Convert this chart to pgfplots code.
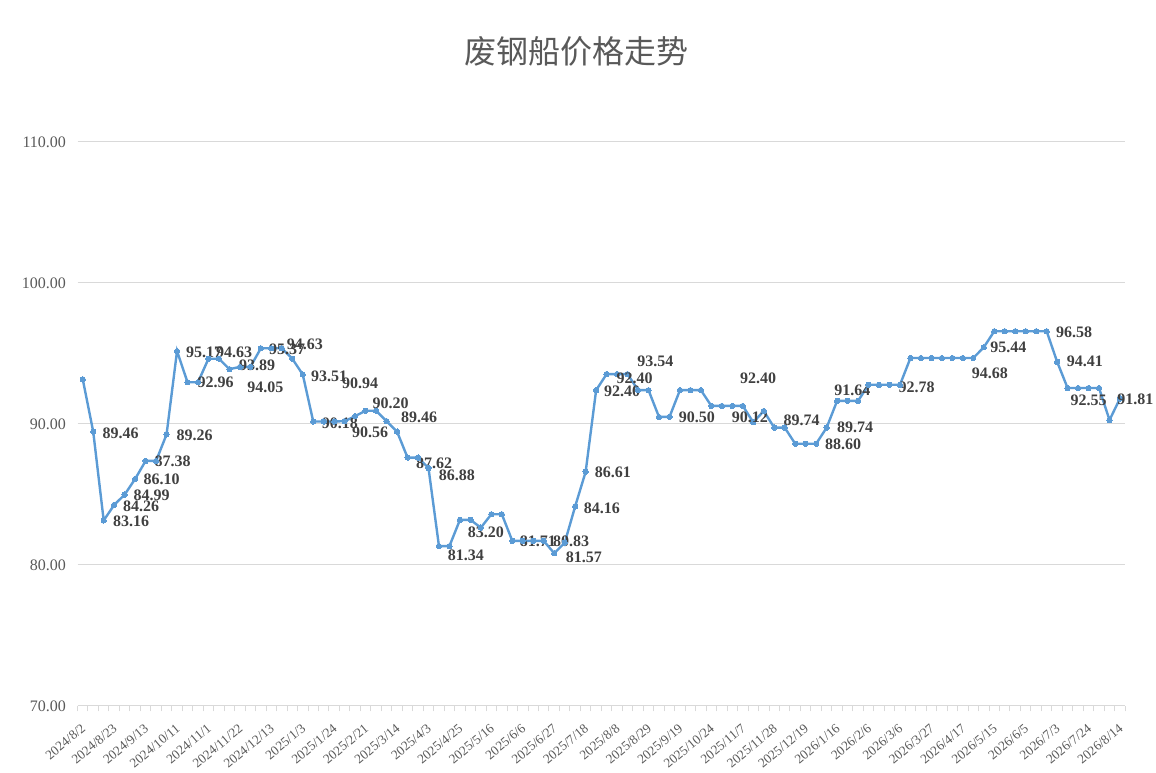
\documentclass[border=0pt]{standalone}
\usepackage{pgfplots}
\pgfplotsset{compat=1.18}
\usepackage{pgfplotstable}
\usepackage{fontspec}
\setmainfont{Liberation Serif}
\newfontfamily\cjk{Noto Sans CJK SC}
\definecolor{linec}{HTML}{5B9BD5}
\definecolor{gridc}{HTML}{D9D9D9}
\definecolor{tickc}{HTML}{595959}
\definecolor{labc}{HTML}{404040}

\pgfplotstableread{
x y lab dx dy
0 93.17 {} 0 0
1 89.46 89.46 7.0 -1.2
2 83.16 83.16 7.0 -1.0
3 84.26 84.26 6.8 -0.8
4 84.99 84.99 6.8 -0.5
5 86.10 86.10 6.4 0
6 87.38 87.38 6.8 -0.5
7 87.38 {} 0 0
8 89.26 89.26 7.5 -1.0
9 95.17 95.17 6.8 -1.0
10 92.96 92.96 7.5 0
11 92.96 {} 0 0
12 94.63 94.63 5.8 5.0
13 94.63 {} 0 0
14 93.89 93.89 7.3 2.7
15 94.05 94.05 5.6 -15.5
16 94.05 {} 0 0
17 95.37 95.37 6.2 -0.5
18 95.37 {} 0 0
19 95.37 {} 0 0
20 94.63 94.63 -4.0 11.0
21 93.51 93.51 6.2 -1.5
22 90.18 90.18 6.5 -1.2
23 90.18 {} 0 0
24 90.18 {} 0 0
25 90.20 {} 0 0
26 90.56 90.56 -2.3 -12.0
27 90.94 90.94 -17.6 20.5
28 90.94 {} 0 0
29 90.20 90.20 -10.4 13.3
30 89.46 89.46 3.1 10.8
31 87.62 87.62 6.5 -4.0
32 87.62 {} 0 0
33 86.88 86.88 7.7 -5.5
34 81.34 81.34 6.7 -6.8
35 81.34 {} 0 0
36 83.20 83.20 5.9 -9.3
37 83.20 {} 0 0
38 82.65 {} 0 0
39 83.60 {} 0 0
40 83.60 {} 0 0
41 81.71 81.71 5.6 0
42 81.71 {} 0 0
43 81.71 {} 0 0
44 81.71 {} 0 0
45 80.83 80.83 -0.9 8.9
46 81.57 81.57 0.8 -10.8
47 84.16 84.16 6.5 -1.3
48 86.61 86.61 6.9 -0.5
49 92.40 92.40 6.0 -0.5
50 93.54 {} 0 0
51 93.54 {} 0 0
52 93.54 93.54 7.3 9.2
53 92.40 92.40 -16.1 9.2
54 92.40 {} 0 0
55 90.50 {} 0 0
56 90.50 90.50 7.1 0
57 92.40 {} 0 0
58 92.40 {} 0 0
59 92.40 {} 0 0
60 91.28 {} 0 0
61 91.28 {} 0 0
62 91.28 {} 0 0
63 91.28 {} 0 0
64 90.12 90.12 -16.1 3.8
65 90.92 92.40 -17.7 24.5
66 89.74 89.74 7.0 5.7
67 89.74 {} 0 0
68 88.60 {} 0 0
69 88.60 {} 0 0
70 88.60 88.60 6.8 -0.5
71 89.74 89.74 7.8 0
72 91.64 91.64 -2.1 7.7
73 91.64 {} 0 0
74 91.64 {} 0 0
75 92.78 {} 0 0
76 92.78 {} 0 0
77 92.78 92.78 6.9 -1.7
78 92.78 {} 0 0
79 94.68 {} 0 0
80 94.68 {} 0 0
81 94.68 {} 0 0
82 94.68 {} 0 0
83 94.68 {} 0 0
84 94.68 {} 0 0
85 94.68 94.68 -1.0 -11.3
86 95.44 95.44 4.9 0
87 96.58 {} 0 0
88 96.58 {} 0 0
89 96.58 {} 0 0
90 96.58 {} 0 0
91 96.58 {} 0 0
92 96.58 96.58 7.1 -0.5
93 94.41 94.41 7.3 0
94 92.55 92.55 2.2 -9.0
95 92.55 {} 0 0
96 92.55 {} 0 0
97 92.55 {} 0 0
98 90.28 {} 0 0
99 91.81 91.81 -2.0 -0.6
}\datatable

\begin{document}
\begin{tikzpicture}
\begin{axis}[
  scale only axis,
  width=785.8pt, height=423pt,
  at={(0,0)}, anchor=south west,
  xmin=-0.5, xmax=99.5,
  ymin=70, ymax=110,
  clip=false,
  axis x line*=bottom,
  axis y line*=left,
  y axis line style={draw=none},
  x axis line style={draw=gridc, line width=0.75pt},
  ymajorgrids,
  grid style={draw=gridc, line width=0.75pt},
  ytick={70,80,90,100,110},
  ytick style={draw=none},
  yticklabel={\pgfmathprintnumber[fixed,fixed zerofill,precision=2]{\tick}},
  /pgf/number format/assume math mode=true,
  yticklabel style={font=\fontsize{12}{12}\selectfont, text=tickc, inner sep=0pt, xshift=-4.2pt},
  xtick={0,3,...,99},
  major x tick style={draw=none},
  minor xtick={-0.5,0.5,...,99.5},
  minor x tick style={draw=gridc, line width=0.75pt},
  minor tick length=4pt,
  tick align=outside,
  xticklabels={2024/8/2,2024/8/23,2024/9/13,2024/10/11,2024/11/1,2024/11/22,2024/12/13,2025/1/3,2025/1/24,2025/2/21,2025/3/14,2025/4/3,2025/4/25,2025/5/16,2025/6/6,2025/6/27,2025/7/18,2025/8/8,2025/8/29,2025/9/19,2025/10/24,2025/11/7,2025/11/28,2025/12/19,2026/1/16,2026/2/6,2026/3/6,2026/3/27,2026/4/17,2026/5/15,2026/6/5,2026/7/3,2026/7/24,2026/8/14},
  xticklabel style={font=\fontsize{10}{10}\selectfont, text=tickc, inner sep=0pt, xshift=0.75pt, yshift=-11pt, rotate=40, anchor=east},
]
\addplot[color=linec, line width=1.8pt, mark=*, mark size=2pt, mark options={fill=linec, draw=linec, line width=0pt},
  point meta=explicit symbolic,
  nodes near coords,
  visualization depends on={\thisrow{dx} \as \dx},
  visualization depends on={\thisrow{dy} \as \dy},
  nodes near coords style={anchor=west, inner sep=0pt, xshift=\dx pt, yshift=\dy pt, font=\bfseries\fontsize{12}{12}\selectfont, text=labc},
] table[x=x, y=y, meta=lab] {\datatable};
\end{axis}
\node[font=\cjk\fontsize{24}{24}\selectfont, text=tickc] at (373.9pt,491pt) {废钢船价格走势};
\path[use as bounding box] (-58.125pt,-50.25pt) rectangle (808.875pt,529.5pt);
\end{tikzpicture}
\end{document}
